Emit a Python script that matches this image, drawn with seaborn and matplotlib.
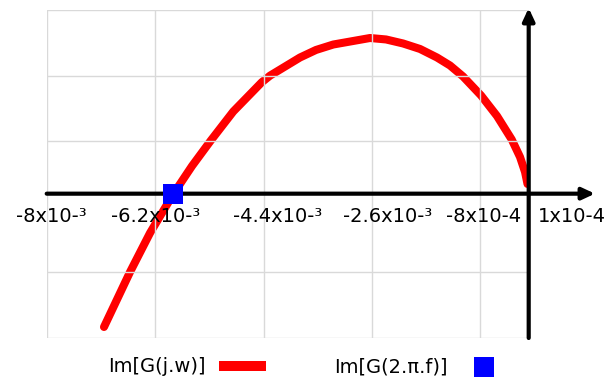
import numpy as np
import pandas as pd
import matplotlib
matplotlib.use('Agg')
import matplotlib.pyplot as plt
import seaborn as sns

re_g = np.array([-7.049, -6.617, -6.285, -5.895, -5.588, -5.278, -4.903, -4.431, -4.294,
                 -3.796, -3.530, -3.243, -2.634, -2.368, -2.086, -1.804, -1.522, -1.306,
                 -1.090, -0.791, -0.526, -0.282, -0.144, -0.061, -0.020]) * 1e-3
im_g = [-2.032, -1.194, -0.599, 0.0, 0.422, 0.808, 1.253, 1.698, 1.799,
        2.076, 2.191, 2.274, 2.373, 2.351, 2.290, 2.206, 2.076, 1.954,
        1.787, 1.497, 1.184, 0.826, 0.559, 0.331, 0.148]

# crossing point of the real axis
cross_re = [-5.91e-3]
cross_im = [0.0]

tick_pos = [-8e-3, -6.2e-3, -4.4e-3, -2.6e-3, -0.8e-3, 1e-3]
tick_labels = ['-8x10-³', '-6.2x10-³', '-4.4x10-³', '-2.6x10-³', '-8x10-4', '1x10-4']
grid_y = [-2.2, -1.2, 0.8, 1.8, 2.8]

line_label = 'Im[G(j.w)]'
point_label = 'Im[G(2.π.f)]'

df = pd.DataFrame({'re': re_g, 'im': im_g})

sns.set_style('white')
plt.rcParams['font.family'] = ['DejaVu Sans']
plt.rcParams['text.color'] = 'black'

fig = plt.figure(figsize=(6.11, 3.8), dpi=100)
ax = fig.add_axes([46.7 / 611, 1 - 338 / 380, 482 / 611, 328 / 380])

sns.lineplot(data=df, x='re', y='im', sort=False, color='red', lw=5.8,
             solid_capstyle='round', solid_joinstyle='round', ax=ax, label=line_label)
sns.scatterplot(x=cross_re, y=cross_im, marker='s', s=207, color='blue',
                linewidth=0, ax=ax, zorder=5, label=point_label)

ax.set_xlim(-8e-3, 0)
ax.set_ylim(-2.2, 2.8)
ax.set_xticks(tick_pos[:-1])
ax.set_yticks(grid_y)
ax.tick_params(length=0, labelbottom=False, labelleft=False)
ax.grid(True, color='#d9d9d9', lw=1)
ax.set_axisbelow(False)
ax.set_xlabel('')
ax.set_ylabel('')
for s in ax.spines.values():
    s.set_visible(False)

# axes with arrows
arrow = dict(arrowstyle='-|>,head_length=0.75,head_width=0.35', color='black',
             lw=3, shrinkA=0, shrinkB=0)
ax.annotate('', xy=(1.1e-3, 0), xytext=(-8e-3, 0), arrowprops=arrow,
            annotation_clip=False, zorder=4)
ax.annotate('', xy=(0, 2.83), xytext=(0, -2.2), arrowprops=arrow,
            annotation_clip=False, zorder=4)

# tick labels sit under the zero line
label_dx = [5, 0, 14, 16, 3, -17]
for pos, lab, dx in zip(tick_pos, tick_labels, label_dx):
    ax.annotate(lab, xy=(pos, 0), xytext=(dx, -13), textcoords='offset pixels',
                ha='center', va='top', fontsize=14, color='black',
                annotation_clip=False)

handles, labels = ax.get_legend_handles_labels()
ax.get_legend().remove()
leg = fig.legend(handles, labels, loc='center', bbox_to_anchor=(307.8 / 611, 1 - 367 / 380),
                 ncol=2, frameon=False, markerfirst=False, handlelength=2.4,
                 handletextpad=0.7, columnspacing=3.5, fontsize=14, borderpad=0)
leg.get_lines()[0].set_linewidth(7.2)
leg.get_lines()[0].set_solid_capstyle('butt')
for t in leg.get_texts():
    t.set_color('black')

fig.savefig('out.png', dpi=100)
